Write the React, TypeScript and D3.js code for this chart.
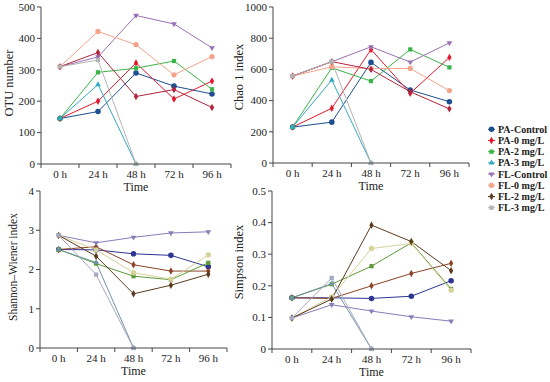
import React from 'react';
import * as d3 from 'd3';

const timeLabels = ['0 h', '24 h', '48 h', '72 h', '96 h'];
const seriesNames = ['PA-Control', 'PA-0 mg/L', 'PA-2 mg/L', 'PA-3 mg/L', 'FL-Control', 'FL-0 mg/L', 'FL-2 mg/L', 'FL-3 mg/L'];

type V = number | null;

// OTU number
const otuValues: V[][] = [
  [145, 167, 290, 248, 223],
  [145, 200, 322, 207, 264],
  [145, 292, 305, 328, 238],
  [145, 253, 0, null, null],
  [310, 341, 473, 446, 370],
  [310, 422, 380, 284, 342],
  [310, 355, 215, 237, 180],
  [310, 331, 0, null, null],
];

// Chao 1 index
const chaoValues: V[][] = [
  [230, 262, 645, 468, 393],
  [230, 351, 728, 447, 677],
  [230, 610, 525, 728, 613],
  [230, 532, 0, null, null],
  [557, 649, 745, 647, 770],
  [557, 617, 605, 606, 464],
  [557, 650, 600, 457, 347],
  [557, 650, 0, null, null],
];

// Shannon–Wiener index
const shannonValues: V[][] = [
  [2.51, 2.5, 2.4, 2.36, 2.07],
  [2.51, 2.58, 2.12, 1.96, 1.96],
  [2.51, 2.15, 1.83, 1.74, 2.17],
  [2.51, 2.18, 0, null, null],
  [2.87, 2.68, 2.82, 2.93, 2.96],
  [2.87, 2.5, 1.92, 1.75, 2.37],
  [2.87, 2.34, 1.38, 1.6, 1.88],
  [2.87, 1.87, 0, null, null],
];

// Simpson index
const simpsonValues: V[][] = [
  [0.162, 0.162, 0.16, 0.167, 0.216],
  [0.162, 0.16, 0.2, 0.239, 0.271],
  [0.162, 0.205, 0.262, 0.336, 0.19],
  [0.162, 0.207, 0, null, null],
  [0.098, 0.14, 0.12, 0.102, 0.088],
  [0.098, 0.165, 0.318, 0.334, 0.186],
  [0.098, 0.158, 0.392, 0.34, 0.248],
  [0.098, 0.225, 0, null, null],
];

const otuTicks = [0, 100, 200, 300, 400, 500];
const chaoTicks = [0, 200, 400, 600, 800, 1000];
const shannonTicks = [0, 1, 2, 3, 4];
const simpsonTicks = [0, 0.1, 0.2, 0.3, 0.4, 0.5];

const brightColors = ['#1d4f91', '#e5182d', '#3bb44a', '#34a9c0', '#9a70b4', '#f5a48c', '#b3233c', '#b4b4b4'];
const mutedColors = ['#2e3592', '#8c4328', '#5e9a3a', '#6f96a6', '#8a7cb8', '#d6d29a', '#5b3b1e', '#a6a9c2'];
const legendColors = ['#1d4f91', '#e5182d', '#3bb44a', '#34a9c0', '#9a70b4', '#f5a48c', '#5b3b1e', '#b4b4b4'];

const symbolTypes = [d3.symbolCircle, d3.symbolDiamond, d3.symbolSquare, d3.symbolTriangle, d3.symbolTriangle, d3.symbolCircle, d3.symbolDiamond, d3.symbolSquare];
const symbolSizes = [24, 16, 18, 14, 14, 22, 16, 18];

const FONT = '"Liberation Serif", "Times New Roman", serif';

const markerPath = (i: number) => d3.symbol().type(symbolTypes[i]).size(symbolSizes[i])() as string;

interface PanelProps {
  values: V[][];
  ticks: number[];
  x0: number; x1: number; y0: number; y1: number;
  title: string;
  titleX: number; titleY: number; titleSize: number;
  colors: string[];
  fmt: (v: number) => string;
}

const Panel: React.FC<PanelProps> = ({ values, ticks, x0, x1, y0, y1, title, titleX, titleY, titleSize, colors, fmt }) => {
  const x = d3.scaleBand<string>().domain(timeLabels).range([x0, x1]);
  const y = d3.scaleLinear().domain([ticks[0], ticks[ticks.length - 1]]).range([y0, y1]);
  const cx = (i: number) => (x(timeLabels[i]) as number) + x.bandwidth() / 2;
  const line = d3.line<V>()
    .defined(d => d !== null)
    .x((_, i) => cx(i))
    .y(d => y(d as number));
  const bounds = [...timeLabels.map(t => x(t) as number), x1];
  return (
    <g>
      {values.map((s, si) => (
        <path key={si} d={line(s) || ''} fill="none" stroke={colors[si]} strokeWidth={1} />
      ))}
      {values.map((s, si) => s.map((v, i) => v === null ? null : (
        <path key={`${si}-${i}`} d={markerPath(si)} fill={colors[si]}
          transform={`translate(${cx(i)},${y(v)})${si === 4 ? ' rotate(180)' : ''}`} />
      )))}
      {/* y axis */}
      <line x1={x0} x2={x0} y1={y0} y2={y1} stroke="#444" />
      {ticks.map(t => (
        <g key={t} transform={`translate(0,${y(t)})`}>
          <line x1={x0 - 4} x2={x0} stroke="#444" />
          <text x={x0 - 6} dy="0.35em" textAnchor="end" fontSize={11} fontFamily={FONT} fill="#222">{fmt(t)}</text>
        </g>
      ))}
      {/* x axis */}
      <line x1={x0} x2={x1} y1={y0} y2={y0} stroke="#444" />
      {bounds.map((b, i) => (
        <line key={i} x1={b} x2={b} y1={y0} y2={y0 + 4} stroke="#444" />
      ))}
      {timeLabels.map((t, i) => (
        <text key={t} x={cx(i)} y={y0 + 14} textAnchor="middle" fontSize={11} fontFamily={FONT} fill="#222">{t}</text>
      ))}
      <text x={(x0 + x1) / 2} y={y0 + 27} textAnchor="middle" fontSize={12} fontFamily={FONT} fill="#222">Time</text>
      <text transform={`translate(${titleX},${titleY}) rotate(-90)`} textAnchor="middle" dy="0.35em" fontSize={titleSize} fontFamily={FONT} fill="#222">{title}</text>
    </g>
  );
};

const App: React.FC = () => {
  const fmtInt = d3.format('d');
  const fmtDec = (v: number) => (v === 0 ? '0' : d3.format('.1f')(v));
  return (
    <svg width={550} height={382} style={{ position: 'absolute', left: 0, top: 0, background: '#fff' }}>
      <Panel values={otuValues} ticks={otuTicks} x0={41} x1={231} y0={164} y1={7}
        title="OTU number" titleX={9} titleY={83} titleSize={12.5} colors={brightColors} fmt={fmtInt} />
      <Panel values={chaoValues} ticks={chaoTicks} x0={273} x1={469} y0={163} y1={7}
        title="Chao 1  index" titleX={239} titleY={77} titleSize={12.5} colors={brightColors} fmt={fmtInt} />
      <Panel values={shannonValues} ticks={shannonTicks} x0={40} x1={227} y0={348} y1={191}
        title="Shannon–Wiener index" titleX={13} titleY={267} titleSize={11.5} colors={mutedColors} fmt={fmtInt} />
      <Panel values={simpsonValues} ticks={simpsonTicks} x0={272} x1={471} y0={349} y1={191}
        title="Simpson  index" titleX={239} titleY={262} titleSize={12.5} colors={mutedColors} fmt={fmtDec} />
      <g>
        {seriesNames.map((n, i) => {
          const cy = 129.3 + i * 11.2;
          return (
            <g key={n}>
              <line x1={488} x2={495} y1={cy} y2={cy} stroke={legendColors[i]} />
              <path d={markerPath(i)} fill={legendColors[i]} transform={`translate(491.5,${cy})${i === 4 ? ' rotate(180)' : ''}`} />
              <text x={498} y={cy} dy="0.35em" fontSize={10} fontWeight="bold" fontFamily={FONT} fill="#222">{n}</text>
            </g>
          );
        })}
      </g>
    </svg>
  );
};

export default App;
